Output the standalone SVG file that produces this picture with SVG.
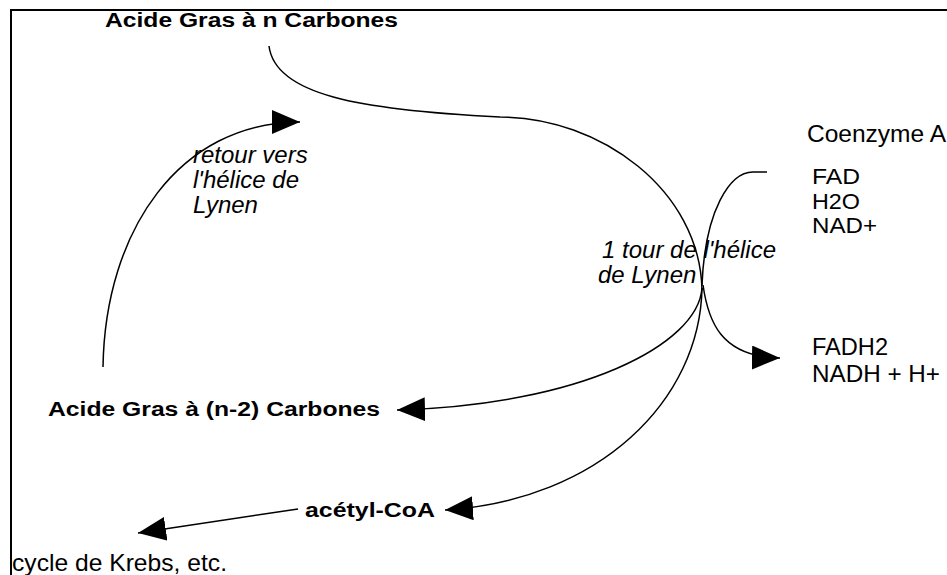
<svg xmlns="http://www.w3.org/2000/svg" width="947" height="575" viewBox="0 0 947 575">
<style>
.b{font-family:"Liberation Sans",Arial,sans-serif;font-weight:bold;font-size:20px;fill:#000}
.r{font-family:"Liberation Sans",Arial,sans-serif;font-size:24px;fill:#000}
.s{font-family:"Liberation Sans",Arial,sans-serif;font-size:22px;fill:#000}
.i{font-family:"Liberation Sans",Arial,sans-serif;font-style:italic;font-size:24px;fill:#000}
.c{fill:none;stroke:#000;stroke-width:1.5}
</style>
<defs>
<marker id="ah" markerUnits="userSpaceOnUse" markerWidth="30" markerHeight="26" refX="28" refY="12" orient="auto">
<path d="M0,0 L28,12 L0,24 z" fill="#000"/>
</marker>
</defs>
<rect x="11" y="10" width="960" height="600" fill="none" stroke="#000" stroke-width="2"/>
<g id="connectors">
<path class="c" d="M269,46 C275,95 360,110 500,117 C600,117 700,190 702,290"/>
<path class="c" d="M767,172 L753,172 C730,172 705,210 702,285"/>
<path class="c" d="M702,288 C698,345 580,405 397,410" marker-end="url(#ah)"/>
<path class="c" d="M702,288 C700,400 600,500 445,510" marker-end="url(#ah)"/>
<path class="c" d="M703,285 C708,320 720,357 780,358" marker-end="url(#ah)"/>
<path class="c" d="M103,367 C105,230 180,122 300,122" marker-end="url(#ah)"/>
<path class="c" d="M298,509 L138,533" marker-end="url(#ah)"/>
</g>
<g id="acide-n"><text class="b" x="105" y="27" textLength="293" lengthAdjust="spacingAndGlyphs">Acide Gras à n Carbones</text></g>
<g id="acide-n2"><text class="b" x="48" y="416" textLength="332" lengthAdjust="spacingAndGlyphs">Acide Gras à (n-2) Carbones</text></g>
<g id="acetyl"><text class="b" x="305" y="517" textLength="130" lengthAdjust="spacingAndGlyphs">acétyl-CoA</text></g>
<g id="krebs"><text class="r" x="12" y="571" textLength="215" lengthAdjust="spacingAndGlyphs">cycle de Krebs, etc.</text></g>
<g id="coenzyme"><text class="r" x="807" y="142" textLength="139" lengthAdjust="spacingAndGlyphs">Coenzyme A</text></g>
<g id="inputs">
<text class="s" x="812" y="184" textLength="48" lengthAdjust="spacingAndGlyphs">FAD</text>
<text class="s" x="812" y="209" textLength="48" lengthAdjust="spacingAndGlyphs">H2O</text>
<text class="s" x="812" y="233" textLength="65" lengthAdjust="spacingAndGlyphs">NAD+</text>
</g>
<g id="outputs">
<text class="r" x="812" y="355" textLength="76" lengthAdjust="spacingAndGlyphs">FADH2</text>
<text class="r" x="812" y="382" textLength="128" lengthAdjust="spacingAndGlyphs">NADH + H+</text>
</g>
<g id="retour">
<text class="i" x="193" y="163">retour vers</text>
<text class="i" x="193" y="188">l'hélice de</text>
<text class="i" x="193" y="213">Lynen</text>
</g>
<g id="tour">
<text class="i" x="602" y="258">1 tour de l'hélice</text>
<text class="i" x="598" y="283">de Lynen</text>
</g>
</svg>
